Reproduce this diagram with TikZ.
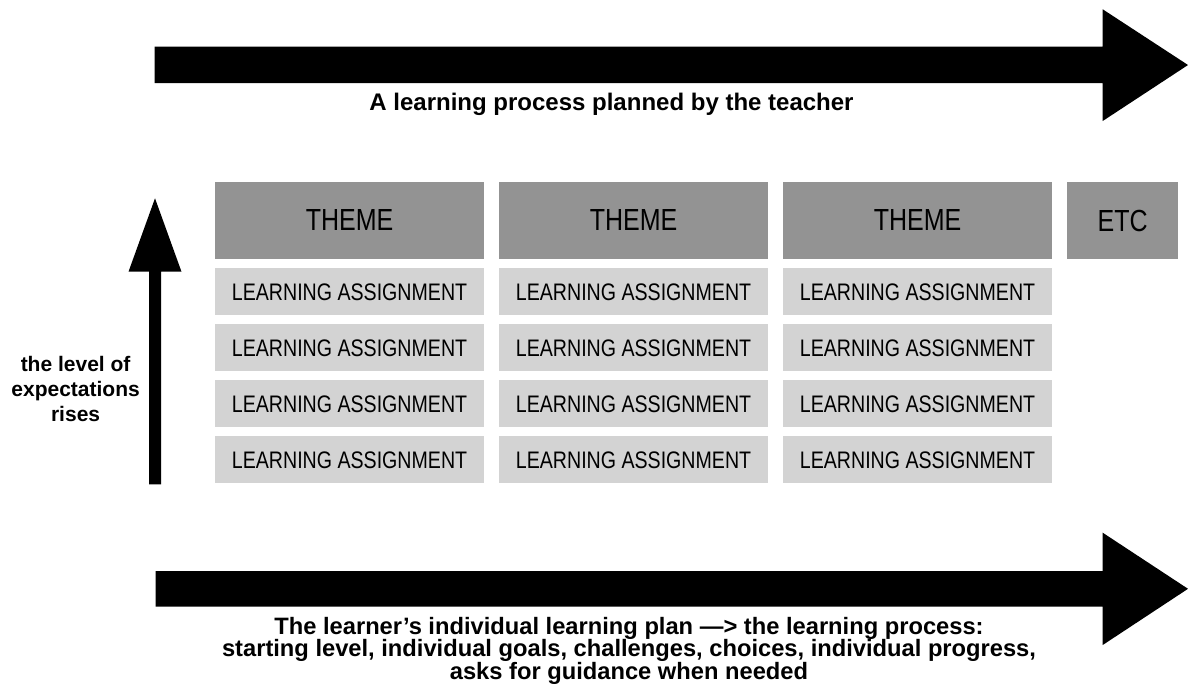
\documentclass[tikz,border=0pt]{standalone}
\usepackage{fontspec}
\setmainfont{Liberation Sans}
\newfontfamily\narrowfont[FakeStretch=0.82]{Liberation Sans}
\definecolor{themegray}{HTML}{939393}
\definecolor{assigngray}{HTML}{D3D3D3}
\begin{document}
\begin{tikzpicture}[x=1pt,y=-1pt,
  themebox/.style={fill=themegray, draw=none, anchor=north west, minimum height=77.6pt, inner sep=0pt, outer sep=0pt, font=\narrowfont\fontsize{30.5}{30.5}\selectfont},
  assignbox/.style={fill=assigngray, draw=none, anchor=north west, minimum width=268.3pt, minimum height=47pt, inner sep=0pt, outer sep=0pt, font=\narrowfont\fontsize{23.9}{24}\selectfont},
  bigarrow/.style={fill=black, draw=none},
  labeltext/.style={inner sep=0pt, outer sep=0pt, align=center}]
\useasboundingbox (0,0) rectangle (1188,697);
% top arrow
\fill[bigarrow] (154.6,46.7) -- (1102.7,46.7) -- (1102.7,9.3) -- (1188,65) -- (1102.7,121) -- (1102.7,83) -- (154.6,83) -- cycle;
\node[labeltext, anchor=base, font=\bfseries\fontsize{24}{24}\selectfont] (toplabel) at (611.5,110.7) {A learning process planned by the teacher};
% bottom arrow
\fill[bigarrow] (155.5,571) -- (1102.7,571) -- (1102.7,532.7) -- (1188,588.8) -- (1102.7,645) -- (1102.7,606.7) -- (155.5,606.7) -- cycle;
\node[labeltext, anchor=north, font=\bfseries\fontsize{23.7}{22.5}\selectfont] (bottomlabel) at (629,617.2) {The learner’s individual learning plan —> the learning process:\\starting level, individual goals, challenges, choices, individual progress,\\asks for guidance when needed};
% vertical arrow
\fill[bigarrow] (149,484.3) -- (149,271.7) -- (128.5,271.7) -- (155,198.3) -- (181.5,271.7) -- (161,271.7) -- (161,484.3) -- cycle;
\node[labeltext, anchor=north, font=\bfseries\fontsize{21}{25}\selectfont] (levellabel) at (75.6,356.5) {the level of\\expectations\\rises};
% themes
\node[themebox, minimum width=268.3pt] (t1) at (215.4,181.7) {THEME};
\node[themebox, minimum width=268.3pt] (t2) at (499.4,181.7) {THEME};
\node[themebox, minimum width=268.3pt] (t3) at (783.4,181.7) {THEME};
\node[themebox, minimum width=110.5pt] (t4) at (1067.4,181.7) {ETC};
% assignments
\foreach \c/\x in {1/215.4, 2/499.4, 3/783.4}{
  \foreach \r in {1,2,3,4}{
    \node[assignbox] (a\c\r) at (\x, {268.3+56*(\r-1)}) {LEARNING ASSIGNMENT};
  }
}
\end{tikzpicture}
\end{document}
